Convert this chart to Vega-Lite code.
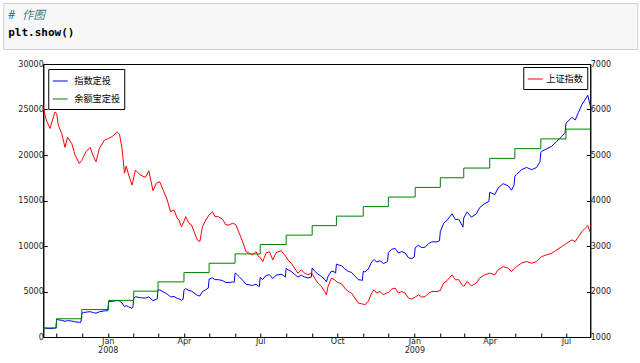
{
  "$schema": "https://vega.github.io/schema/vega-lite/v6.json",
  "padding": {"left": 2, "top": 2, "right": 2, "bottom": 0},
  "background": "white",
  "config": {
    "font": "DejaVu Sans",
    "axis": {"labelFont": "DejaVu Sans", "labelFontSize": 8, "labelColor": "#222222", "domainColor": "black", "tickColor": "black", "grid": false, "tickSize": -4, "labelPadding": 4, "labelFlush": false, "labelOverlap": false}
  },
  "columns": 1,
  "center": true,
  "spacing": 9,
  "datasets": {
    "sh": [
      {"date":"2007-10-16","value":6060},{"date":"2007-10-19","value":5803},{"date":"2007-10-24","value":5583},{"date":"2007-10-30","value":5947},{"date":"2007-11-01","value":5914},{"date":"2007-11-03","value":5656},{"date":"2007-11-07","value":5474},{"date":"2007-11-11","value":5167},{"date":"2007-11-14","value":5386},{"date":"2007-11-19","value":5254},{"date":"2007-11-23","value":4998},{"date":"2007-11-28","value":4816},{"date":"2007-12-01","value":4880},{"date":"2007-12-03","value":4961},{"date":"2007-12-06","value":5070},{"date":"2007-12-11","value":5167},{"date":"2007-12-15","value":4961},{"date":"2007-12-18","value":4851},{"date":"2007-12-22","value":5145},{"date":"2007-12-28","value":5327},
      {"date":"2008-01-02","value":5364},{"date":"2008-01-07","value":5414},{"date":"2008-01-12","value":5509},{"date":"2008-01-15","value":5458},{"date":"2008-01-18","value":5145},{"date":"2008-01-21","value":4597},{"date":"2008-01-23","value":4757},{"date":"2008-01-26","value":4559},{"date":"2008-01-30","value":4340},{"date":"2008-02-01","value":4500},{"date":"2008-02-03","value":4669},{"date":"2008-02-09","value":4559},{"date":"2008-02-15","value":4509},{"date":"2008-02-19","value":4654},{"date":"2008-02-24","value":4215},{"date":"2008-02-28","value":4377},{"date":"2008-03-01","value":4400},{"date":"2008-03-03","value":4412},{"date":"2008-03-08","value":4193},{"date":"2008-03-12","value":4011},{"date":"2008-03-16","value":3754},{"date":"2008-03-20","value":3792},{"date":"2008-03-24","value":3610},{"date":"2008-03-26","value":3572},{"date":"2008-03-29","value":3425},{"date":"2008-04-01","value":3540},{"date":"2008-04-03","value":3645},{"date":"2008-04-07","value":3500},{"date":"2008-04-10","value":3463},{"date":"2008-04-13","value":3316},{"date":"2008-04-17","value":3134},{"date":"2008-04-20","value":3097},{"date":"2008-04-23","value":3425},{"date":"2008-04-27","value":3572},{"date":"2008-05-01","value":3680},{"date":"2008-05-05","value":3754},{"date":"2008-05-08","value":3645},{"date":"2008-05-12","value":3645},{"date":"2008-05-17","value":3588},{"date":"2008-05-21","value":3463},{"date":"2008-05-25","value":3463},{"date":"2008-05-29","value":3500},{"date":"2008-06-01","value":3480},{"date":"2008-06-02","value":3463},{"date":"2008-06-06","value":3281},{"date":"2008-06-10","value":3097},{"date":"2008-06-14","value":2877},{"date":"2008-06-18","value":2842},{"date":"2008-06-22","value":2805},{"date":"2008-06-26","value":2877},{"date":"2008-06-29","value":2768},{"date":"2008-07-01","value":2750},{"date":"2008-07-04","value":2658},{"date":"2008-07-08","value":2842},{"date":"2008-07-12","value":2877},{"date":"2008-07-16","value":2695},{"date":"2008-07-20","value":2855},{"date":"2008-07-26","value":2899},{"date":"2008-07-30","value":2805},{"date":"2008-08-01","value":2760},{"date":"2008-08-03","value":2695},{"date":"2008-08-07","value":2623},{"date":"2008-08-11","value":2513},{"date":"2008-08-15","value":2404},{"date":"2008-08-19","value":2476},{"date":"2008-08-23","value":2404},{"date":"2008-08-27","value":2366},{"date":"2008-08-31","value":2404},{"date":"2008-09-01","value":2400},{"date":"2008-09-04","value":2290},{"date":"2008-09-08","value":2184},{"date":"2008-09-12","value":2110},{"date":"2008-09-16","value":2000},{"date":"2008-09-18","value":1928},{"date":"2008-09-20","value":2110},{"date":"2008-09-24","value":2294},{"date":"2008-09-28","value":2257},{"date":"2008-09-30","value":2220},{"date":"2008-10-02","value":2198},{"date":"2008-10-06","value":2169},{"date":"2008-10-10","value":2075},{"date":"2008-10-14","value":2000},{"date":"2008-10-18","value":1965},{"date":"2008-10-22","value":1855},{"date":"2008-10-26","value":1746},{"date":"2008-10-30","value":1730},{"date":"2008-11-01","value":1720},{"date":"2008-11-03","value":1708},{"date":"2008-11-07","value":1781},{"date":"2008-11-11","value":1965},{"date":"2008-11-14","value":2037},{"date":"2008-11-17","value":1965},{"date":"2008-11-21","value":2000},{"date":"2008-11-25","value":1928},{"date":"2008-11-29","value":1965},{"date":"2008-12-01","value":1980},{"date":"2008-12-05","value":2053},{"date":"2008-12-09","value":2075},{"date":"2008-12-13","value":1965},{"date":"2008-12-17","value":2000},{"date":"2008-12-21","value":1965},{"date":"2008-12-25","value":1855},{"date":"2008-12-29","value":1833},
      {"date":"2009-01-02","value":1877},{"date":"2009-01-06","value":1928},{"date":"2009-01-10","value":1877},{"date":"2009-01-14","value":1890},{"date":"2009-01-18","value":1965},{"date":"2009-01-22","value":2000},{"date":"2009-01-28","value":2000},{"date":"2009-02-01","value":2022},{"date":"2009-02-05","value":2184},{"date":"2009-02-09","value":2240},{"date":"2009-02-15","value":2366},{"date":"2009-02-19","value":2257},{"date":"2009-02-23","value":2260},{"date":"2009-02-27","value":2147},{"date":"2009-03-01","value":2110},{"date":"2009-03-05","value":2219},{"date":"2009-03-10","value":2125},{"date":"2009-03-16","value":2184},{"date":"2009-03-20","value":2294},{"date":"2009-03-26","value":2366},{"date":"2009-04-01","value":2404},{"date":"2009-04-07","value":2366},{"date":"2009-04-11","value":2476},{"date":"2009-04-17","value":2548},{"date":"2009-04-23","value":2513},{"date":"2009-04-27","value":2439},{"date":"2009-05-01","value":2520},{"date":"2009-05-03","value":2548},{"date":"2009-05-09","value":2623},{"date":"2009-05-15","value":2658},{"date":"2009-05-21","value":2623},{"date":"2009-05-27","value":2658},{"date":"2009-06-01","value":2750},{"date":"2009-06-02","value":2768},{"date":"2009-06-08","value":2805},{"date":"2009-06-14","value":2842},{"date":"2009-06-20","value":2914},{"date":"2009-06-26","value":2987},{"date":"2009-07-01","value":3050},{"date":"2009-07-02","value":3061},{"date":"2009-07-08","value":3134},{"date":"2009-07-12","value":3097},{"date":"2009-07-16","value":3206},{"date":"2009-07-20","value":3316},{"date":"2009-07-24","value":3390},{"date":"2009-07-27","value":3450},{"date":"2009-07-30","value":3300}
    ],
    "fund": [
      {"date":"2007-10-16","value":1000},{"date":"2007-10-19","value":958},{"date":"2007-10-24","value":921},{"date":"2007-10-30","value":981},{"date":"2007-10-31","value":976},{"date":"2007-11-01","value":1976},{"date":"2007-11-03","value":1890},{"date":"2007-11-07","value":1829},{"date":"2007-11-11","value":1726},{"date":"2007-11-14","value":1800},{"date":"2007-11-19","value":1755},{"date":"2007-11-23","value":1670},{"date":"2007-11-28","value":1609},{"date":"2007-11-30","value":1631},{"date":"2007-12-01","value":2631},{"date":"2007-12-03","value":2674},{"date":"2007-12-06","value":2733},{"date":"2007-12-11","value":2785},{"date":"2007-12-15","value":2674},{"date":"2007-12-18","value":2615},{"date":"2007-12-22","value":2773},{"date":"2007-12-28","value":2871},{"date":"2008-01-01","value":2891},
      {"date":"2008-01-02","value":3891},{"date":"2008-01-07","value":3928},{"date":"2008-01-12","value":3997},{"date":"2008-01-15","value":3960},{"date":"2008-01-18","value":3733},{"date":"2008-01-21","value":3335},{"date":"2008-01-23","value":3451},{"date":"2008-01-26","value":3307},{"date":"2008-01-30","value":3149},{"date":"2008-01-31","value":3265},{"date":"2008-02-01","value":4265},{"date":"2008-02-03","value":4425},{"date":"2008-02-09","value":4321},{"date":"2008-02-15","value":4273},{"date":"2008-02-19","value":4411},{"date":"2008-02-24","value":3995},{"date":"2008-02-28","value":4148},{"date":"2008-02-29","value":4170},{"date":"2008-03-01","value":5170},{"date":"2008-03-03","value":5184},{"date":"2008-03-08","value":4927},{"date":"2008-03-12","value":4713},{"date":"2008-03-16","value":4411},{"date":"2008-03-20","value":4455},{"date":"2008-03-24","value":4242},{"date":"2008-03-26","value":4197},{"date":"2008-03-29","value":4024},{"date":"2008-03-31","value":4159},{"date":"2008-04-01","value":5159},{"date":"2008-04-03","value":5312},{"date":"2008-04-07","value":5101},{"date":"2008-04-10","value":5047},{"date":"2008-04-13","value":4833},{"date":"2008-04-17","value":4568},{"date":"2008-04-20","value":4514},{"date":"2008-04-23","value":4992},{"date":"2008-04-27","value":5206},{"date":"2008-04-30","value":5363},{"date":"2008-05-01","value":6363},{"date":"2008-05-05","value":6491},{"date":"2008-05-08","value":6303},{"date":"2008-05-12","value":6303},{"date":"2008-05-17","value":6204},{"date":"2008-05-21","value":5988},{"date":"2008-05-25","value":5988},{"date":"2008-05-29","value":6052},{"date":"2008-05-31","value":6018},{"date":"2008-06-01","value":7018},{"date":"2008-06-02","value":6983},{"date":"2008-06-06","value":6616},{"date":"2008-06-10","value":6245},{"date":"2008-06-14","value":5802},{"date":"2008-06-18","value":5731},{"date":"2008-06-22","value":5656},{"date":"2008-06-26","value":5802},{"date":"2008-06-29","value":5582},{"date":"2008-06-30","value":5546},{"date":"2008-07-01","value":6546},{"date":"2008-07-04","value":6327},{"date":"2008-07-08","value":6765},{"date":"2008-07-12","value":6848},{"date":"2008-07-16","value":6415},{"date":"2008-07-20","value":6795},{"date":"2008-07-26","value":6900},{"date":"2008-07-30","value":6676},{"date":"2008-07-31","value":6569},{"date":"2008-08-01","value":7569},{"date":"2008-08-03","value":7391},{"date":"2008-08-07","value":7194},{"date":"2008-08-11","value":6892},{"date":"2008-08-15","value":6593},{"date":"2008-08-19","value":6790},{"date":"2008-08-23","value":6593},{"date":"2008-08-27","value":6489},{"date":"2008-08-31","value":6593},{"date":"2008-09-01","value":7582},{"date":"2008-09-04","value":7235},{"date":"2008-09-08","value":6900},{"date":"2008-09-12","value":6666},{"date":"2008-09-16","value":6318},{"date":"2008-09-18","value":6091},{"date":"2008-09-20","value":6666},{"date":"2008-09-24","value":7247},{"date":"2008-09-28","value":7130},{"date":"2008-09-29","value":7013},{"date":"2008-09-30","value":8013},{"date":"2008-10-02","value":7934},{"date":"2008-10-06","value":7829},{"date":"2008-10-10","value":7490},{"date":"2008-10-14","value":7219},{"date":"2008-10-18","value":7093},{"date":"2008-10-22","value":6696},{"date":"2008-10-26","value":6302},{"date":"2008-10-30","value":6245},{"date":"2008-10-31","value":6209},{"date":"2008-11-01","value":7209},{"date":"2008-11-03","value":7158},{"date":"2008-11-07","value":7464},{"date":"2008-11-11","value":8235},{"date":"2008-11-14","value":8537},{"date":"2008-11-17","value":8235},{"date":"2008-11-21","value":8382},{"date":"2008-11-25","value":8080},{"date":"2008-11-29","value":8235},{"date":"2008-11-30","value":8298},{"date":"2008-12-01","value":9298},{"date":"2008-12-05","value":9641},{"date":"2008-12-09","value":9744},{"date":"2008-12-13","value":9228},{"date":"2008-12-17","value":9392},{"date":"2008-12-21","value":9228},{"date":"2008-12-25","value":8711},{"date":"2008-12-29","value":8608},{"date":"2009-01-01","value":8815},
      {"date":"2009-01-02","value":9815},{"date":"2009-01-06","value":10081},{"date":"2009-01-10","value":9815},{"date":"2009-01-14","value":9883},{"date":"2009-01-18","value":10275},{"date":"2009-01-22","value":10458},{"date":"2009-01-28","value":10458},{"date":"2009-01-31","value":10573},{"date":"2009-02-01","value":11573},{"date":"2009-02-05","value":12500},{"date":"2009-02-09","value":12820},{"date":"2009-02-15","value":13542},{"date":"2009-02-19","value":12918},{"date":"2009-02-23","value":12935},{"date":"2009-02-27","value":12288},{"date":"2009-02-28","value":12076},{"date":"2009-03-01","value":13076},{"date":"2009-03-05","value":13752},{"date":"2009-03-10","value":13169},{"date":"2009-03-16","value":13535},{"date":"2009-03-20","value":14217},{"date":"2009-03-26","value":14663},{"date":"2009-03-31","value":14898},{"date":"2009-04-01","value":15898},{"date":"2009-04-07","value":15647},{"date":"2009-04-11","value":16375},{"date":"2009-04-17","value":16851},{"date":"2009-04-23","value":16619},{"date":"2009-04-27","value":16130},{"date":"2009-04-30","value":16666},{"date":"2009-05-01","value":17666},{"date":"2009-05-03","value":17862},{"date":"2009-05-09","value":18388},{"date":"2009-05-15","value":18633},{"date":"2009-05-21","value":18388},{"date":"2009-05-27","value":18633},{"date":"2009-05-31","value":19278},{"date":"2009-06-01","value":20278},{"date":"2009-06-02","value":20411},{"date":"2009-06-08","value":20683},{"date":"2009-06-14","value":20956},{"date":"2009-06-20","value":21487},{"date":"2009-06-26","value":22026},{"date":"2009-06-30","value":22490},{"date":"2009-07-01","value":23490},{"date":"2009-07-02","value":23575},{"date":"2009-07-08","value":24137},{"date":"2009-07-12","value":23851},{"date":"2009-07-16","value":24692},{"date":"2009-07-20","value":25539},{"date":"2009-07-24","value":26109},{"date":"2009-07-27","value":26571},{"date":"2009-07-30","value":25415}
    ],
    "yeb": [
      {"date":"2007-10-16","value":1000},{"date":"2007-11-01","value":2005},{"date":"2007-12-01","value":3015},{"date":"2008-01-02","value":4025},{"date":"2008-02-01","value":5040},{"date":"2008-03-01","value":6060},{"date":"2008-04-01","value":7080},{"date":"2008-05-01","value":8105},{"date":"2008-06-01","value":9130},{"date":"2008-07-01","value":10160},{"date":"2008-08-01","value":11195},{"date":"2008-09-01","value":12235},{"date":"2008-09-30","value":13280},{"date":"2008-11-01","value":14330},{"date":"2008-12-01","value":15380},{"date":"2009-01-02","value":16440},{"date":"2009-02-01","value":17500},{"date":"2009-03-01","value":18565},{"date":"2009-04-01","value":19630},{"date":"2009-05-01","value":20700},{"date":"2009-06-01","value":21770},{"date":"2009-07-01","value":22845},{"date":"2009-07-30","value":22860}
    ]
  },
  "concat": [
    {
      "width": 634,
      "height": 46,
      "view": {"fill": "#f7f7f7", "stroke": "#cfcfcf", "strokeWidth": 1},
      "title": {"text": "# 作图", "subtitle": "plt.show()", "anchor": "start", "frame": "group", "orient": "top", "offset": -35, "dx": 5, "font": "DejaVu Sans Mono, Noto Sans CJK SC", "fontSize": 11.5, "fontStyle": "italic", "fontWeight": "normal", "color": "#408080", "subtitleFont": "DejaVu Sans Mono", "subtitleFontSize": 11, "subtitleFontWeight": "bold", "subtitleColor": "#000000", "subtitlePadding": 6},
      "data": {"values": []},
      "mark": "rect",
      "encoding": {
        "y": {"field": "value", "type": "quantitative", "axis": {"orient": "right", "labels": false, "ticks": false, "domain": false, "grid": false, "title": null, "minExtent": 23, "maxExtent": 23}}
      }
    },
    {
      "width": 547,
      "height": 273,
      "view": {"stroke": "black", "strokeWidth": 1},
      "encoding": {
        "x": {"field": "date", "type": "temporal", "scale": {"domain": [{"year": 2007, "month": 10, "date": 16, "utc": true}, {"year": 2009, "month": 7, "date": 30, "utc": true}]}, "axis": {"title": null, "values": [{"year":2007,"month":11,"date":1,"utc":true},{"year":2007,"month":12,"date":1,"utc":true},{"year":2008,"month":1,"date":1,"utc":true},{"year":2008,"month":2,"date":1,"utc":true},{"year":2008,"month":3,"date":1,"utc":true},{"year":2008,"month":4,"date":1,"utc":true},{"year":2008,"month":5,"date":1,"utc":true},{"year":2008,"month":6,"date":1,"utc":true},{"year":2008,"month":7,"date":1,"utc":true},{"year":2008,"month":8,"date":1,"utc":true},{"year":2008,"month":9,"date":1,"utc":true},{"year":2008,"month":10,"date":1,"utc":true},{"year":2008,"month":11,"date":1,"utc":true},{"year":2008,"month":12,"date":1,"utc":true},{"year":2009,"month":1,"date":1,"utc":true},{"year":2009,"month":2,"date":1,"utc":true},{"year":2009,"month":3,"date":1,"utc":true},{"year":2009,"month":4,"date":1,"utc":true},{"year":2009,"month":5,"date":1,"utc":true},{"year":2009,"month":6,"date":1,"utc":true},{"year":2009,"month":7,"date":1,"utc":true}], "labelExpr": "utcmonth(datum.value) % 3 == 0 ? (utcmonth(datum.value) == 0 ? [utcFormat(datum.value, '%b'), utcFormat(datum.value, '%Y')] : utcFormat(datum.value, '%b')) : ''", "labelLineHeight": 9, "labelPadding": 4, "labelOverlap": false, "labelFlush": false, "labelBound": false}}
      },
      "layer": [
        {
          "layer": [
            {
              "data": {"name": "fund"},
              "mark": {"type": "line", "strokeWidth": 1},
              "encoding": {
                "y": {"field": "value", "type": "quantitative", "scale": {"domain": [0, 30000], "nice": false, "zero": false}, "axis": {"title": null, "orient": "left", "values": [0, 5000, 10000, 15000, 20000, 25000, 30000], "format": "d", "minExtent": 40, "labelPadding": 4, "labelOverlap": false}},
                "color": {"datum": "指数定投", "type": "nominal", "scale": {"domain": ["指数定投", "余额宝定投"], "range": ["#0000ff", "#008000"]}, "legend": {"orient": "top-left", "offset": 5, "title": null, "strokeColor": "black", "fillColor": "white", "padding": 4, "cornerRadius": 0, "symbolType": "stroke", "symbolSize": 225, "symbolStrokeWidth": 1, "labelFont": "Noto Sans CJK SC", "labelFontSize": 9.2, "labelColor": "black", "labelOffset": 6, "rowPadding": 4}}
              }
            },
            {
              "data": {"name": "yeb"},
              "mark": {"type": "line", "strokeWidth": 1, "interpolate": "step-after"},
              "encoding": {
                "y": {"field": "value", "type": "quantitative"},
                "color": {"datum": "余额宝定投", "type": "nominal"}
              }
            }
          ]
        },
        {
          "data": {"name": "sh"},
          "mark": {"type": "line", "strokeWidth": 1},
          "encoding": {
            "y": {"field": "value", "type": "quantitative", "scale": {"domain": [1000, 7000], "nice": false, "zero": false}, "axis": {"title": null, "orient": "right", "values": [1000, 2000, 3000, 4000, 5000, 6000, 7000], "format": "d", "labelPadding": 4, "minExtent": 30, "maxExtent": 30, "labelOverlap": false}},
            "color": {"datum": "上证指数", "type": "nominal", "scale": {"domain": ["上证指数"], "range": ["#ff0000"]}, "legend": {"orient": "top-right", "offset": 3, "title": null, "strokeColor": "black", "fillColor": "white", "padding": 4, "cornerRadius": 0, "symbolType": "stroke", "symbolSize": 225, "symbolStrokeWidth": 1, "labelFont": "Noto Sans CJK SC", "labelFontSize": 9.2, "labelColor": "black", "labelOffset": 3}}
          }
        }
      ],
      "resolve": {"scale": {"y": "independent", "color": "independent"}}
    }
  ]
}
